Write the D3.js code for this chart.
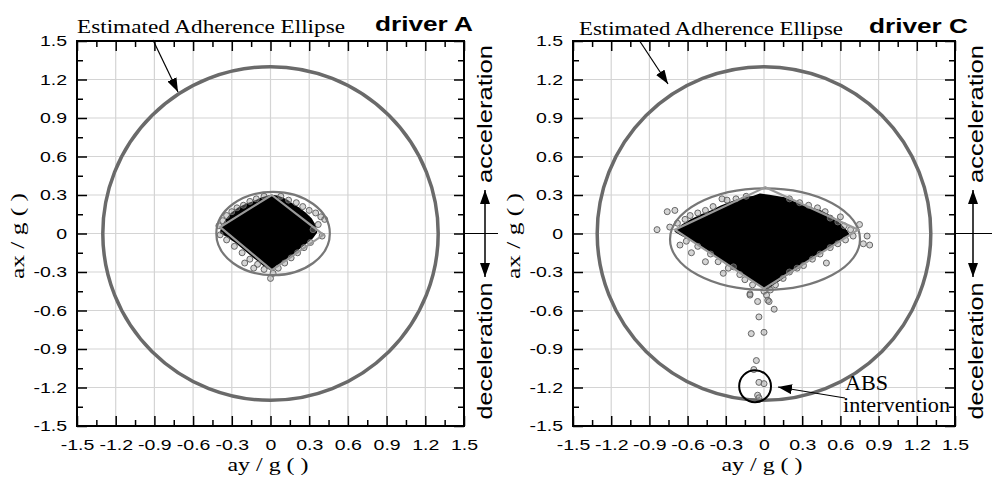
<!DOCTYPE html>
<html lang="en">
<head>
<meta charset="UTF-8">
<title>Estimated Adherence Ellipse</title>
<script src="https://cdn.jsdelivr.net/npm/d3@7"></script>
<style>
  * { margin: 0; padding: 0; }
  html, body { background: #fff; }
  svg { display: block; }
  .serif { font-family: "Liberation Serif", "Times New Roman", serif; }
  .sans { font-family: "Liberation Sans", Arial, sans-serif; }
</style>
</head>
<body>
<div id="chart"></div>
<script>
// axis ticks
const tickValues = [-1.5, -1.2, -0.9, -0.6, -0.3, 0, 0.3, 0.6, 0.9, 1.2, 1.5]
const tickLabels = ['-1.5', '-1.2', '-0.9', '-0.6', '-0.3', '0', '0.3', '0.6', '0.9', '1.2', '1.5']
const minorValues = [-1.35, -1.05, -0.75, -0.45, -0.15, 0.15, 0.45, 0.75, 1.05, 1.35]
const driverNames = ['driver A', 'driver C']

// [ay, ax] pairs, in g
const adherenceA = [0, 0, 1.3, 1.3]          // cx, cy, rx, ry
const adherenceC = [0, 0, 1.31, 1.3]
const ellipseA = [0.02, 0, 0.44, 0.325]
const ellipseC = [0.008, -0.044, 0.746, 0.396]
const diamondA = [[0.01, 0.30], [0.41, -0.01], [0.01, -0.285], [-0.39, 0.05]]
const diamondC = [[0.01, 0.36], [0.74, 0.03], [0.0, -0.43], [-0.70, 0.03]]

const cloudA = [[0.01,0.29],[0.05,0.285],[0.09,0.27],[0.13,0.25],[0.17,0.22],[0.22,0.19],[0.27,0.15],[0.31,0.11],
  [0.34,0.06],[0.35,0.01],[0.32,-0.03],[0.27,-0.07],[0.22,-0.11],[0.16,-0.16],[0.10,-0.21],[0.05,-0.25],[0.01,-0.28],
  [-0.04,-0.25],[-0.09,-0.21],[-0.15,-0.16],[-0.21,-0.11],[-0.27,-0.06],[-0.33,-0.02],[-0.38,0.01],[-0.37,0.05],
  [-0.34,0.10],[-0.30,0.15],[-0.25,0.19],[-0.19,0.22],[-0.13,0.24],[-0.07,0.27],[-0.03,0.28]]
const ringsA = [[-0.40,0.06],[-0.37,0.10],[-0.34,0.14],[-0.30,0.17],[-0.26,0.20],[-0.21,0.22],[-0.16,0.25],[-0.11,0.27],
  [-0.05,0.29],[0.08,0.29],[0.14,0.26],[0.20,0.24],[0.25,0.21],[0.30,0.18],[0.35,0.16],[0.39,0.13],[0.42,0.11],
  [0.37,0.07],[0.33,0.03],[0.40,-0.02],[0.31,-0.07],[0.26,-0.11],[0.21,-0.15],[0.16,-0.19],[0.11,-0.23],[0.06,-0.27],
  [0.02,-0.31],[0.0,-0.35],[-0.05,-0.28],[-0.10,-0.24],[-0.16,-0.20],[-0.22,-0.15],[-0.28,-0.10],[-0.34,-0.05],
  [-0.39,-0.01],[-0.13,-0.27],[-0.20,-0.23]]

const cloudC = [[-0.03,0.30],[0.04,0.29],[0.10,0.28],[0.16,0.27],[0.23,0.24],[0.31,0.21],[0.38,0.19],[0.44,0.17],
  [0.50,0.14],[0.55,0.11],[0.60,0.06],[0.64,0.02],[0.66,-0.01],[0.61,-0.04],[0.55,-0.07],[0.48,-0.12],[0.41,-0.17],
  [0.34,-0.21],[0.27,-0.26],[0.20,-0.30],[0.13,-0.35],[0.07,-0.39],[0.02,-0.43],[-0.03,-0.40],[-0.08,-0.37],
  [-0.14,-0.32],[-0.20,-0.28],[-0.28,-0.24],[-0.36,-0.18],[-0.44,-0.12],[-0.51,-0.08],[-0.58,-0.04],[-0.64,-0.01],
  [-0.69,0.02],[-0.64,0.06],[-0.57,0.10],[-0.49,0.14],[-0.41,0.17],[-0.33,0.21],[-0.25,0.24],[-0.17,0.27],[-0.09,0.28]]
const ringsC = [[-0.84,0.03],[-0.76,0.17],[-0.70,0.18],[-0.74,0.05],[-0.68,0.08],[-0.62,0.11],[-0.58,0.14],[-0.52,0.16],
  [-0.46,0.18],[-0.40,0.21],[-0.33,0.27],[-0.29,0.26],[-0.22,0.27],[-0.14,0.29],
  [-0.66,-0.09],[-0.61,-0.06],[-0.57,-0.15],[-0.52,-0.10],[-0.46,-0.22],[-0.42,-0.16],[-0.36,-0.22],[-0.32,-0.31],
  [-0.28,-0.27],[-0.24,-0.26],[-0.19,-0.32],[-0.15,-0.36],[-0.11,-0.47],[-0.09,-0.40],
  [0.20,0.27],[0.28,0.24],[0.35,0.22],[0.42,0.20],[0.48,0.17],[0.52,0.12],[0.60,0.13],[0.58,0.09],[0.63,0.06],
  [0.68,0.03],[0.75,0.07],[0.81,-0.02],[0.78,-0.08],[0.83,-0.09],[0.70,-0.02],
  [0.64,-0.05],[0.58,-0.08],[0.52,-0.11],[0.49,-0.23],[0.44,-0.16],[0.38,-0.20],[0.31,-0.25],[0.26,-0.27],
  [0.20,-0.30],[0.15,-0.35],[0.09,-0.40],[0.05,-0.44],
  [0.00,-0.45],[0.03,-0.52],[-0.11,-0.48],[0.02,-0.48],[-0.05,-0.53],[0.04,-0.53],[0.08,-0.59],[-0.04,-0.65],
  [-0.10,-0.78],[0.00,-0.77],[-0.06,-0.99],[-0.08,-1.06],[-0.04,-1.16],[0.00,-1.17],[-0.05,-1.26],[-0.04,-1.28]]
const absCircle = [-0.07, -1.19, 0.125, 0.125]

const W = 992, H = 482
const S = 1.3 // horizontal stretch of the original figure's lettering

const svg = d3.select('#chart').append('svg')
  .attr('width', W).attr('height', H)
  .attr('viewBox', [0, 0, W, H])

const defs = svg.append('defs')
defs.append('marker').attr('id', 'head')
  .attr('markerUnits', 'userSpaceOnUse')
  .attr('markerWidth', 16).attr('markerHeight', 12)
  .attr('refX', 14).attr('refY', 5)
  .attr('orient', 'auto-start-reverse')
  .append('path').attr('d', 'M0,0L14,5L0,10z').attr('fill', '#000')

const panels = [
  { x0: 77, x1: 464, name: driverNames[0], adherence: adherenceA, ellipse: ellipseA, diamond: diamondA,
    cloud: cloudA, rings: ringsA, title: [77, 33, 268], label: [375, 31, 98], arrow: [153, 40, 178, 92],
    side: [492, 485, 464, 498], ax: 24, ay: 268 },
  { x0: 573, x1: 955, name: driverNames[1], adherence: adherenceC, ellipse: ellipseC, diamond: diamondC,
    cloud: cloudC, rings: ringsC, title: [579, 35, 264], label: [869, 33, 99], arrow: [639, 40, 668, 84],
    side: [983, 973, 955, 992], ax: 520, ay: 762 }
]

const yTop = 41, yBot = 426

function stretch(sel, k) {
  sel.each(function() {
    const w = this.getComputedTextLength()
    d3.select(this).attr('textLength', w * k).attr('lengthAdjust', 'spacingAndGlyphs')
  })
}

function drawPanel(p) {
  const x = d3.scaleLinear().domain([-1.5, 1.5]).range([p.x0, p.x1])
  const y = d3.scaleLinear().domain([-1.5, 1.5]).range([yBot, yTop])
  const g = svg.append('g')

  // grid
  g.append('g').selectAll('line').data(tickValues).join('line')
    .attr('x1', d => x(d)).attr('x2', d => x(d)).attr('y1', yTop).attr('y2', yBot)
    .attr('stroke', '#d4d4d4').attr('stroke-width', 1.2)
  g.append('g').selectAll('line').data(tickValues).join('line')
    .attr('y1', d => y(d)).attr('y2', d => y(d)).attr('x1', p.x0).attr('x2', p.x1)
    .attr('stroke', '#d4d4d4').attr('stroke-width', 1.2)

  const ell = (sel, e) => sel
    .attr('cx', x(e[0])).attr('cy', y(e[1]))
    .attr('rx', x(e[0] + e[2]) - x(e[0])).attr('ry', y(e[1]) - y(e[1] + e[3]))

  // big adherence ellipse
  g.append('ellipse').call(ell, p.adherence)
    .attr('fill', 'none').attr('stroke', '#6a6a6a').attr('stroke-width', 3.5)

  // data cloud
  const line = d3.line().x(d => x(d[0])).y(d => y(d[1]))
  g.append('path').attr('d', line.curve(d3.curveLinearClosed)(p.cloud))
    .attr('fill', '#000').attr('stroke', '#000').attr('stroke-width', 3).attr('stroke-linejoin', 'round')
  g.append('g').selectAll('circle').data(p.rings).join('circle')
    .attr('cx', d => x(d[0])).attr('cy', d => y(d[1])).attr('r', 3)
    .attr('fill', 'rgba(150,150,150,0.4)').attr('stroke', '#666').attr('stroke-width', 1)

  // inner ellipse and diamond
  g.append('ellipse').call(ell, p.ellipse)
    .attr('fill', 'none').attr('stroke', '#777').attr('stroke-width', 2.2)
  g.append('path').attr('d', line.curve(d3.curveLinearClosed)(p.diamond))
    .attr('fill', 'none').attr('stroke', '#9a9a9a').attr('stroke-width', 2.2)

  // frame
  g.append('rect').attr('x', p.x0).attr('y', yTop).attr('width', p.x1 - p.x0).attr('height', yBot - yTop)
    .attr('fill', 'none').attr('stroke', '#000').attr('stroke-width', 2)

  // inward ticks on all four sides
  const tickAxes = [
    [d3.axisBottom(x), `translate(0,${yBot})`],
    [d3.axisTop(x), `translate(0,${yTop})`],
    [d3.axisLeft(y), `translate(${p.x0},0)`],
    [d3.axisRight(y), `translate(${p.x1},0)`]
  ]
  tickAxes.forEach(([axis, tr]) => {
    g.append('g').attr('transform', tr)
      .call(axis.tickValues(tickValues).tickSize(-10).tickFormat(''))
      .call(a => a.select('.domain').remove())
      .selectAll('line').attr('stroke', '#000').attr('stroke-width', 1.5)
    g.append('g').attr('transform', tr)
      .call(axis.tickValues(minorValues).tickSize(-6).tickFormat(''))
      .call(a => a.select('.domain').remove())
      .selectAll('line').attr('stroke', '#000').attr('stroke-width', 1.5)
  })

  // tick labels
  const xl = g.append('g').attr('transform', `translate(0,${yBot})`)
    .call(d3.axisBottom(x).tickValues(tickValues).tickFormat((d, i) => tickLabels[i]).tickSize(0).tickPadding(13))
    .call(a => a.select('.domain').remove())
  const yl = g.append('g').attr('transform', `translate(${p.x0},0)`)
    .call(d3.axisLeft(y).tickValues(tickValues).tickFormat((d, i) => tickLabels[i]).tickSize(0).tickPadding(10))
    .call(a => a.select('.domain').remove())
  ;[xl, yl].forEach(a => a.selectAll('text')
    .attr('font-family', '"Liberation Sans", Arial, sans-serif').attr('font-size', 15).attr('fill', '#000'))
  stretch(xl.selectAll('text'), S)
  stretch(yl.selectAll('text'), S)

  // axis titles
  g.append('text').attr('class', 'serif').attr('x', p.ay).attr('y', 471)
    .attr('text-anchor', 'middle').attr('font-size', 18)
    .attr('textLength', 81).attr('lengthAdjust', 'spacingAndGlyphs').text('ay / g ( )')
  g.append('text').attr('class', 'serif')
    .attr('transform', `translate(${p.ax},236) rotate(-90)`)
    .attr('text-anchor', 'middle').attr('font-size', 19)
    .attr('textLength', 86).attr('lengthAdjust', 'spacingAndGlyphs').text('ax / g ( )')

  // titles
  g.append('text').attr('class', 'serif').attr('x', p.title[0]).attr('y', p.title[1])
    .attr('font-size', 18).attr('textLength', p.title[2]).attr('lengthAdjust', 'spacingAndGlyphs')
    .text('Estimated Adherence Ellipse')
  g.append('text').attr('class', 'sans').attr('x', p.label[0]).attr('y', p.label[1])
    .attr('font-size', 21).attr('font-weight', 'bold')
    .attr('textLength', p.label[2]).attr('lengthAdjust', 'spacingAndGlyphs')
    .text(p.name)
  g.append('line')
    .attr('x1', p.arrow[0]).attr('y1', p.arrow[1]).attr('x2', p.arrow[2]).attr('y2', p.arrow[3])
    .attr('stroke', '#000').attr('stroke-width', 1.2).attr('marker-end', 'url(#head)')

  // acceleration / deceleration marker on the right
  const [tx, lx, hx0, hx1] = p.side
  g.append('line').attr('x1', hx0).attr('x2', hx1).attr('y1', y(0)).attr('y2', y(0))
    .attr('stroke', '#000').attr('stroke-width', 1.2)
  g.append('line').attr('x1', lx).attr('x2', lx).attr('y1', 190).attr('y2', 277)
    .attr('stroke', '#000').attr('stroke-width', 1.5)
    .attr('marker-start', 'url(#head)').attr('marker-end', 'url(#head)')
  g.append('text').attr('class', 'sans')
    .attr('transform', `translate(${tx},114) rotate(-90)`)
    .attr('text-anchor', 'middle').attr('font-size', 20)
    .attr('textLength', 138).attr('lengthAdjust', 'spacingAndGlyphs').text('acceleration')
  g.append('text').attr('class', 'sans')
    .attr('transform', `translate(${tx},351) rotate(-90)`)
    .attr('text-anchor', 'middle').attr('font-size', 20)
    .attr('textLength', 137).attr('lengthAdjust', 'spacingAndGlyphs').text('deceleration')

  return { g, x, y }
}

panels.forEach((p, i) => {
  const { g, x, y } = drawPanel(p)
  if (i === 1) {
    // ABS intervention callout
    g.append('ellipse')
      .attr('cx', x(absCircle[0])).attr('cy', y(absCircle[1]))
      .attr('rx', x(absCircle[0] + absCircle[2]) - x(absCircle[0]))
      .attr('ry', y(absCircle[1]) - y(absCircle[1] + absCircle[3]))
      .attr('fill', 'none').attr('stroke', '#000').attr('stroke-width', 2)
    g.append('line').attr('x1', 845).attr('y1', 398).attr('x2', 778).attr('y2', 387)
      .attr('stroke', '#000').attr('stroke-width', 1.2).attr('marker-end', 'url(#head)')
    g.append('text').attr('class', 'serif').attr('x', 845).attr('y', 390)
      .attr('font-size', 21).attr('textLength', 43).attr('lengthAdjust', 'spacingAndGlyphs').text('ABS')
    g.append('text').attr('class', 'serif').attr('x', 843).attr('y', 412)
      .attr('font-size', 21).attr('textLength', 107).attr('lengthAdjust', 'spacingAndGlyphs').text('intervention')
  }
})
</script>
</body>
</html>
